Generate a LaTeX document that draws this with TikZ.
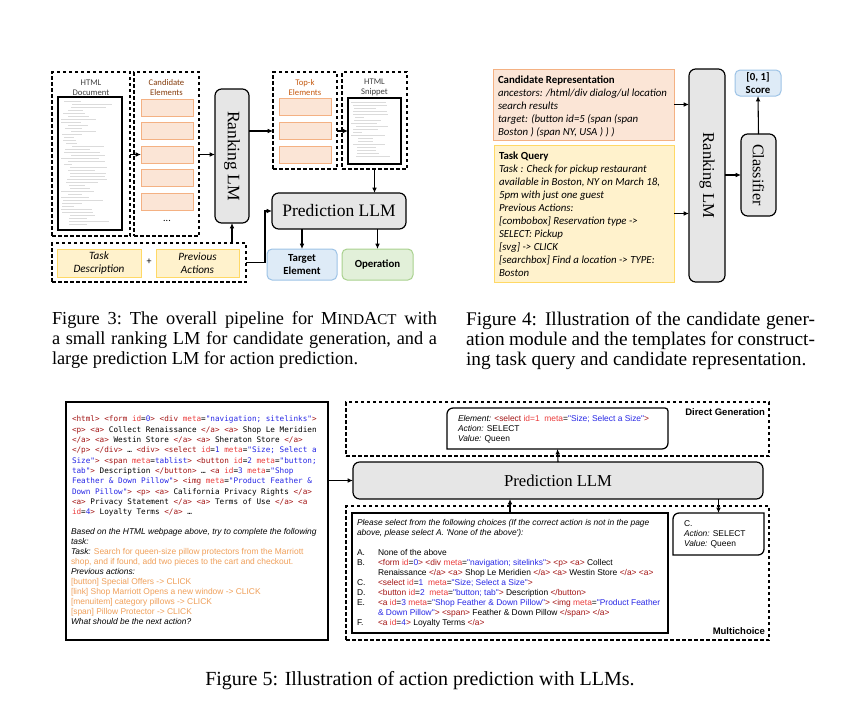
\documentclass[tikz,border=0pt]{standalone}
\usepackage{fontspec}
\setmainfont{Liberation Serif}
\newfontfamily\calfont{Carlito}
\newfontfamily\arialfont{Liberation Sans}[Ligatures=TeXOff]
\newfontfamily\codefont{DejaVu Sans Mono}[Ligatures=TeXOff]
\usetikzlibrary{arrows.meta,calc,positioning}
\newdimen\unitpx
\unitpx=0.6pt
\definecolor{orangefill}{RGB}{251,229,214}
\definecolor{orangeline}{RGB}{244,177,131}
\definecolor{yellowfill}{RGB}{255,242,204}
\definecolor{yellowline}{RGB}{255,217,102}
\definecolor{bluefill}{RGB}{222,235,247}
\definecolor{blueline}{RGB}{157,195,230}
\definecolor{greenfill}{RGB}{226,240,217}
\definecolor{greenline}{RGB}{169,209,142}
\definecolor{lmgray}{RGB}{230,230,230}
\definecolor{darktext}{RGB}{64,64,64}
\definecolor{labelbrown}{RGB}{132,60,12}
\definecolor{labelorange}{RGB}{197,90,17}
\definecolor{tagred}{RGB}{163,21,21}
\definecolor{attrred}{RGB}{235,60,60}
\definecolor{valblue}{RGB}{40,40,230}
\definecolor{taskorange}{RGB}{240,160,90}
\newcommand{\htag}[1]{\textcolor{tagred}{#1}}
\newcommand{\hattr}[1]{\textcolor{attrred}{#1}}
\newcommand{\hval}[1]{\textcolor{valblue}{#1}}
\newcommand{\hor}[1]{\textcolor{taskorange}{#1}}
\newcommand{\chl}[1]{\makebox[12.6pt][l]{#1}}
\newcommand{\capline}[2]{\makebox[#1\unitpx][s]{#2}}
\tikzset{
    common/.style={inner sep=0pt, outer sep=0pt},
    sz/.style 2 args={minimum width=#1\unitpx, minimum height=#2\unitpx},
    dashbox/.style={common, draw, line width=0.75pt, dash pattern=on 2.1pt off 1.5pt},
    page/.style={common, draw, line width=0.9pt, fill=white},
    elembox/.style={common, draw=orangeline, fill=orangefill, line width=0.6pt},
    inputbox/.style={common, draw=yellowline, fill=yellowfill, line width=0.6pt},
    lmbox/.style={common, draw, fill=lmgray, rounded corners=4pt, line width=0.7pt},
    outbox/.style={common, rounded corners=3pt, line width=0.6pt},
    lmtext/.style={common, font=\fontsize{10.5}{12}\selectfont},
    tinylabel/.style={common, align=center, font=\calfont\fontsize{5.2}{6}\selectfont},
    smalltext/.style={align=center, font=\calfont\itshape\fontsize{6.7}{7.8}\selectfont},
    boldtext/.style={align=center, font=\calfont\bfseries\fontsize{6.5}{7.6}\selectfont},
    reptext/.style={common, align=left, font=\calfont\fontsize{6.5}{7.8}\selectfont},
    codetext/.style={common, align=left, font=\codefont\fontsize{4.6}{6.2}\selectfont},
    sansbody/.style={common, align=left, font=\arialfont\fontsize{5.05}{6}\selectfont},
    tag/.style={common, font=\arialfont\bfseries\fontsize{5.7}{6}\selectfont},
    scribble/.style={gray!28, line width=0.25pt},
    boxline/.style={line width=0.75pt},
    arr/.style={->, line width=0.65pt},
    caption/.style={common, anchor=north west, align=left, font=\frenchspacing\fontsize{11}{12}\selectfont}
}
\begin{document}
\begin{tikzpicture}[x=\unitpx, y=-\unitpx, >={Latex[length=3.2pt,width=2.8pt]}]
    \useasboundingbox (0,0) rectangle (849,703);

    % Figure 3
    \node[dashbox, sz={78}{164}] (doc-box) at (91,154) {};
    \node[page, sz={64}{133}] (doc-page) at (90,163.5) {};
    \node[tinylabel, text=darktext] (doc-label) at (91,87.5) {HTML\\Document};
    \node[dashbox, sz={65}{164}] (cand-box) at (166.5,154) {};
    \node[tinylabel, text=labelbrown] (cand-label) at (166.5,87.5) {Candidate\\Elements};
    \foreach \k/\y in {1/107.5,2/131,3/154.5,4/178,5/201.5}
        \node[elembox, sz={52}{17}] (cand-\k) at (167,\y) {};
    \node[common, font=\calfont\fontsize{6}{7}\selectfont] (cand-dots) at (167,221) {...};

    \pgfmathsetseed{11}
    \foreach \k in {0,...,41} {
        \pgfmathrandominteger{\ind}{3}{14}
        \pgfmathrandominteger{\len}{8}{40}
        \draw[scribble] (doc-page.north west) ++(\ind,4+3*\k) -- ++(\len,0);
    }

    \node[lmbox, sz={34}{134}] (rank-lm) at (232,156) {};
    \node[lmtext, rotate=-90] (rank-lm-text) at (rank-lm) {Ranking LM};

    \node[dashbox, sz={194}{39}] (task-box) at (149,262.5) {};
    \node[inputbox, sz={84}{28}, smalltext] (task-desc) at (99,263) {Task\\Description};
    \node[common, font=\calfont\fontsize{6}{7}\selectfont] (task-plus) at (149,262) {+};
    \node[inputbox, sz={83}{28}, smalltext] (prev-act) at (197.5,263) {Previous\\Actions};

    \node[dashbox, sz={64}{97}] (topk-box) at (305,120.5) {};
    \node[tinylabel, text=labelorange] (topk-label) at (305,87.5) {Top-k\\Elements};
    \foreach \k/\y in {1/107,2/131,3/154.5}
        \node[elembox, sz={52}{17}] (topk-\k) at (305,\y) {};

    \node[dashbox, sz={65}{97}] (snip-box) at (374.5,120.5) {};
    \node[tinylabel, text=darktext] (snip-label) at (374.5,87.5) {HTML\\Snippet};
    \node[page, sz={53}{66}] (snip-page) at (374.5,131) {};
    \foreach \k in {0,...,18} {
        \pgfmathrandominteger{\ind}{3}{10}
        \pgfmathrandominteger{\len}{8}{36}
        \draw[scribble] (snip-page.north west) ++(\ind,4+3*\k) -- ++(\len,0);
    }

    \node[lmbox, sz={134}{36}, lmtext] (pred-llm) at (339,211) {Prediction LLM};
    \node[outbox, draw=blueline, fill=bluefill, sz={70}{31}, boldtext] (targ-el) at (302,264.5) {Target\\Element};
    \node[outbox, draw=greenline, fill=greenfill, sz={71}{31}, boldtext] (oper) at (377.5,264.5) {Operation};

    \draw[arr] (doc-box.east |- cand-3) -- (cand-3.west);
    \draw[arr] (cand-box.east |- cand-3) -- (rank-lm.west |- cand-3);
    \draw[arr] (task-box.north -| rank-lm) -- (rank-lm.south);
    \draw[arr] (rank-lm.east |- topk-2) -- (topk-box.west |- topk-2);
    \draw[arr] (topk-box.east |- topk-2) -- (snip-page.west |- topk-2);
    \draw[arr] (snip-box.south) -- (snip-box.south |- pred-llm.north);
    \draw[arr] (task-box.east) -- ++(19,0) |- (pred-llm.west);
    \draw[arr] (pred-llm.south -| targ-el) -- (targ-el.north);
    \draw[arr] (pred-llm.south -| oper) -- (oper.north);

    % Figure 4
    \node[elembox, sz={181}{71}] (cand-rep) at (583.5,104.5) {};
    \path (cand-rep.north west) ++(5,7) node[reptext, anchor=north west] (cand-rep-text) {%
        \textbf{Candidate Representation}\\
        \textit{ancestors: /html/div dialog/ul location}\\
        \textit{search results}\\
        \textit{target: (button id=5 (span (span}\\
        \textit{Boston ) (span NY, USA ) ) )}};
    \node[inputbox, sz={180}{137}] (task-query) at (584,213.5) {};
    \path (task-query.north west) ++(5,7) node[reptext, anchor=north west] (task-query-text) {%
        \textbf{Task Query}\\
        \textit{Task : Check for pickup restaurant}\\
        \textit{available in Boston, NY on March 18,}\\
        \textit{5pm with just one guest}\\
        \textit{Previous Actions:}\\
        \textit{[combobox] Reservation type ->}\\
        \textit{SELECT: Pickup}\\
        \textit{[svg] -> CLICK}\\
        \textit{[searchbox] Find a location -> TYPE:}\\
        \textit{Boston}};
    \node[lmbox, sz={36}{213}] (rank-lm-2) at (707,175.5) {};
    \node[common, rotate=-90, font=\fontsize{10}{12}\selectfont] (rank-lm-2-text) at (rank-lm-2) {Ranking LM};
    \node[lmbox, sz={35}{82}] (classifier) at (758.5,175) {};
    \node[common, rotate=-90, font=\fontsize{9.7}{12}\selectfont] (classifier-text) at (classifier) {Classifier};
    \node[outbox, draw=blueline, fill=bluefill, sz={46}{26}, boldtext] (score) at (758,83) {[0, 1]\\Score};

    \draw[arr] (cand-rep.east) -- (cand-rep.east -| rank-lm-2.west);
    \draw[arr] (task-query.east) -- (task-query.east -| rank-lm-2.west);
    \draw[arr] (rank-lm-2.east |- classifier) -- (classifier.west);
    \draw[arr] (classifier.north) -- (score.south);

    % Figure 5
    \node[page, sz={262}{238}] (html-box) at (197,521) {};
    \path (html-box.north west) ++(6,14) node[codetext, anchor=north west] (html-code) {%
        \htag{<html>} \htag{<form} \hattr{id}=\hval{0}\htag{>} \htag{<div} \hattr{meta}=\hval{"navigation; sitelinks"}\htag{>}\\
        \htag{<p>} \htag{<a>} Collect Renaissance \htag{</a>} \htag{<a>} Shop Le Meridien\\
        \htag{</a>} \htag{<a>} Westin Store \htag{</a>} \htag{<a>} Sheraton Store \htag{</a>}\\
        \htag{</p>} \htag{</div>} … \htag{<div>} \htag{<select} \hattr{id}=\hval{1} \hattr{meta}=\hval{"Size; Select a}\\
        \hval{Size"}\htag{>} \htag{<span} \hattr{meta}=\hval{tablist}\htag{>} \htag{<button} \hattr{id}=\hval{2} \hattr{meta}=\hval{"button;}\\
        \hval{tab"}\htag{>} Description \htag{</button>} … \htag{<a} \hattr{id}=\hval{3} \hattr{meta}=\hval{"Shop}\\
        \hval{Feather \& Down Pillow"}\htag{>} \htag{<img} \hattr{meta}=\hval{"Product Feather \&}\\
        \hval{Down Pillow"}\htag{>} \htag{<p>} \htag{<a>} California Privacy Rights \htag{</a>}\\
        \htag{<a>} Privacy Statement \htag{</a>} \htag{<a>} Terms of Use \htag{</a>} \htag{<a}\\
        \hattr{id}=\hval{4}\htag{>} Loyalty Terms \htag{</a>} …};
    \path (html-box.north west) ++(5,126) node[sansbody, anchor=north west] (html-task) {%
        \textit{Based on the HTML webpage above, try to complete the following}\\
        \textit{task:}\\
        \textit{Task:} \hor{Search for queen-size pillow protectors from the Marriott}\\
        \hor{shop, and if found, add two pieces to the cart and checkout.}\\
        \textit{Previous actions:}\\
        \hor{[button] Special Offers -> CLICK}\\
        \hor{[link] Shop Marriott Opens a new window -> CLICK}\\
        \hor{[menuitem] category pillows -> CLICK}\\
        \hor{[span] Pillow Protector -> CLICK}\\
        \textit{What should be the next action?}};

    \node[dashbox, sz={423}{54}] (direct-box) at (557.5,429) {};
    \node[tag, anchor=east] (direct-tag) at (765,412) {Direct Generation};
    \node[common, sz={221}{41}] (elem-box) at (557.5,428.5) {};
    \draw[boxline, fill=white] (elem-box.south west) -- ++(0,-35) arc[start angle=180, end angle=270, radius=6]
        -- ++(212,0) arc[start angle=270, end angle=360, radius=3]
        -- ++(0,32) arc[start angle=0, end angle=90, radius=6] -- cycle;
    \path (elem-box.north west) ++(11,7) node[sansbody, anchor=north west] (elem-text) {%
        \textit{Element:} \htag{<select} \hattr{id=1}~~\hattr{meta}=\hval{"Size; Select a Size"}\htag{>}\\
        \textit{Action:} SELECT\\
        \textit{Value:} Queen};

    \node[lmbox, sz={410}{37}, font=\fontsize{10}{12}\selectfont] (pred-llm-2) at (558,480.5) {Prediction LLM};

    \node[dashbox, sz={423}{134}] (mc-box) at (557.5,573) {};
    \node[tag, anchor=east] (mc-tag) at (765,631) {Multichoice};
    \node[page, sz={316}{120}, line width=0.75pt] (choice-box) at (510,573) {};
    \path (choice-box.north west) ++(5,6) node[sansbody, anchor=north west] (choice-text) {%
        \textit{Please select from the following choices (If the correct action is not in the page}\\
        \textit{above, please select A. 'None of the above'):}\\[6pt]
        \chl{A.}None of the above\\
        \chl{B.}\htag{<form} \hattr{id}=\hval{0}\htag{>} \htag{<div} \hattr{meta}=\hval{"navigation; sitelinks"}\htag{>} \htag{<p>} \htag{<a>} Collect\\
        \chl{}Renaissance \htag{</a>} \htag{<a>} Shop Le Meridien \htag{</a>} \htag{<a>} Westin Store \htag{</a>} \htag{<a>}\\
        \chl{C.}\htag{<select} \hattr{id}=\hval{1}~~\hattr{meta}=\hval{"Size; Select a Size"}\htag{>}\\
        \chl{D.}\htag{<button} \hattr{id}=\hval{2}~~\hattr{meta}=\hval{"button; tab"}\htag{>} Description \htag{</button>}\\
        \chl{E.}\htag{<a} \hattr{id}=\hval{3} \hattr{meta}=\hval{"Shop Feather \& Down Pillow"}\htag{>} \htag{<img} \hattr{meta}=\hval{"Product Feather}\\
        \chl{}\hval{\& Down Pillow"}\htag{>} \htag{<span>} Feather \& Down Pillow \htag{</span>} \htag{</a>}\\
        \chl{F.}\htag{<a} \hattr{id}=\hval{4}\htag{>} Loyalty Terms \htag{</a>}};
    \node[common, sz={91}{42}] (ans-box) at (718.5,534) {};
    \draw[boxline, fill=white] (ans-box.south west) -- ++(0,-36) arc[start angle=180, end angle=270, radius=6]
        -- (ans-box.north east) -- ++(0,36) arc[start angle=0, end angle=90, radius=6] -- cycle;
    \path (ans-box.north west) ++(11,8) node[sansbody, anchor=north west] (ans-text) {%
        C.\\
        \textit{Action:} SELECT\\
        \textit{Value:} Queen};

    \draw[arr] (html-box.east |- pred-llm-2.west) -- (pred-llm-2.west);
    \draw[arr] (pred-llm-2.north) -- (elem-box.south);
    \draw[arr] (choice-box.north) -- (choice-box.north |- pred-llm-2.south);
    \draw[arr] (pred-llm-2.south -| ans-box) -- (ans-box.north);

    % captions
    \node[caption] (cap-3) at (52,312) {%
        \capline{385}{Figure 3: The overall pipeline for M{\fontsize{9}{12}\selectfont IND}A{\fontsize{9}{12}\selectfont CT} with}\\
        \capline{385}{a small ranking LM for candidate generation, and a}\\
        large prediction LM for action prediction.};
    \node[caption, font=\fontsize{11.6}{12}\selectfont] (cap-4) at (466,312) {%
        \capline{349}{Figure 4: Illustration of the candidate gener-}\\
        \capline{349}{ation module and the templates for construct-}\\
        ing task query and candidate representation.};
    \node[common, anchor=base, font=\fontsize{12}{12}\selectfont] (cap-5) at (420,685) {Figure 5: Illustration of action prediction with LLMs.};
\end{tikzpicture}
\end{document}
